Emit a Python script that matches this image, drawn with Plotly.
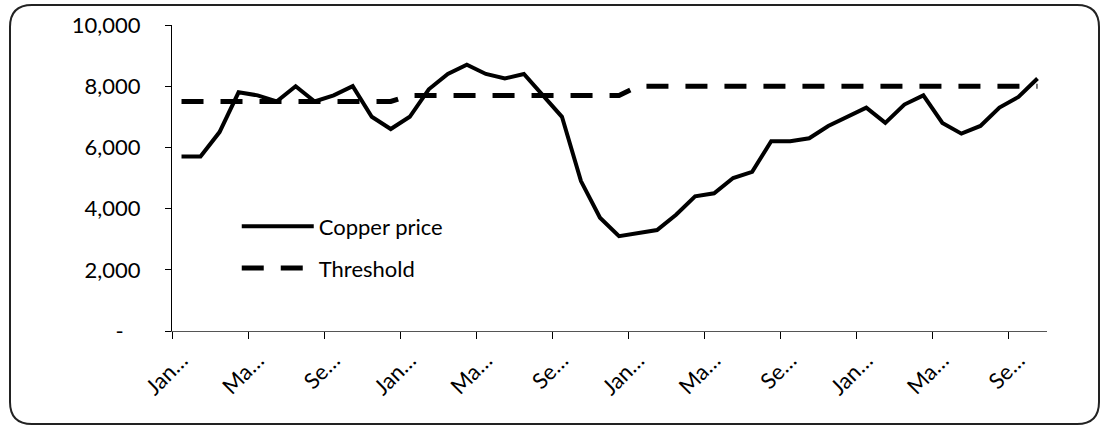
"""Copper price vs threshold line chart (Excel-style)."""

import plotly.graph_objects as go

# monthly observations, Jan 2007 .. Oct 2010
months = [
    "Jan-07", "Feb-07", "Mar-07", "Apr-07", "May-07", "Jun-07",
    "Jul-07", "Aug-07", "Sep-07", "Oct-07", "Nov-07", "Dec-07",
    "Jan-08", "Feb-08", "Mar-08", "Apr-08", "May-08", "Jun-08",
    "Jul-08", "Aug-08", "Sep-08", "Oct-08", "Nov-08", "Dec-08",
    "Jan-09", "Feb-09", "Mar-09", "Apr-09", "May-09", "Jun-09",
    "Jul-09", "Aug-09", "Sep-09", "Oct-09", "Nov-09", "Dec-09",
    "Jan-10", "Feb-10", "Mar-10", "Apr-10", "May-10", "Jun-10",
    "Jul-10", "Aug-10", "Sep-10", "Oct-10",
]

copper_price = [
    5700, 5700, 6500, 7800, 7700, 7500, 8000, 7500, 7700, 8000, 7000, 6600,
    7000, 7900, 8400, 8700, 8400, 8250, 8400, 7700, 7000, 4900, 3700, 3100,
    3200, 3300, 3800, 4400, 4500, 5000, 5200, 6200, 6200, 6300, 6700, 7000,
    7300, 6800, 7400, 7700, 6800, 6450, 6700, 7300, 7650, 8250,
]

threshold = [7500] * 12 + [7700] * 12 + [8000] * 22

y_ticks = [0, 2000, 4000, 6000, 8000, 10000]
y_tick_text = ["-\u00a0\u00a0\u00a0", "2,000", "4,000", "6,000", "8,000", "10,000"]

x_tick_text = ["Jan…", "Ma…", "Se…"] * 4

W, H = 1103, 428
M = dict(l=172, r=56, t=25, b=97)
FONT = "Lato, 'Open Sans', sans-serif"

x = list(range(len(months)))

fig = go.Figure()
fig.add_trace(go.Scatter(
    x=x, y=copper_price, mode="lines", name="Copper price",
    line=dict(color="black", width=4), legendgroup="a",
    customdata=months, hovertemplate="%{customdata}: %{y:,}<extra></extra>",
))
fig.add_trace(go.Scatter(
    x=x, y=threshold, mode="lines", name="Threshold",
    line=dict(color="black", width=5, dash="22px,17px"), legendgroup="b",
    customdata=months, hovertemplate="%{customdata}: %{y:,}<extra></extra>",
))

# rounded chart-area border, given in pixels and converted to paper units
pw, ph = W - M["l"] - M["r"], H - M["t"] - M["b"]


def px(v):
    return (v - M["l"]) / pw


def py(v):
    return (H - M["b"] - v) / ph


x0, x1, y0, y1, r = 10, 1099, 5, 424, 22
path = (
    f"M{px(x0 + r)},{py(y0)} L{px(x1 - r)},{py(y0)} "
    f"Q{px(x1)},{py(y0)} {px(x1)},{py(y0 + r)} "
    f"L{px(x1)},{py(y1 - r)} Q{px(x1)},{py(y1)} {px(x1 - r)},{py(y1)} "
    f"L{px(x0 + r)},{py(y1)} Q{px(x0)},{py(y1)} {px(x0)},{py(y1 - r)} "
    f"L{px(x0)},{py(y0 + r)} Q{px(x0)},{py(y0)} {px(x0 + r)},{py(y0)} Z"
)
fig.add_shape(type="path", path=path, xref="paper", yref="paper",
              line=dict(color="#222", width=2), layer="below")

fig.update_layout(
    width=W, height=H, margin=M,
    paper_bgcolor="white", plot_bgcolor="white",
    font=dict(family=FONT, size=22, color="black"),
    showlegend=True,
    legend=dict(
        x=0.074, y=0.41, xanchor="left", yanchor="top",
        bgcolor="rgba(0,0,0,0)", itemwidth=72, tracegroupgap=10,
        font=dict(size=22),
    ),
    xaxis=dict(
        range=[-0.5, len(months) - 0.5], showgrid=False, zeroline=False,
        showline=True, linecolor="#555", linewidth=1,
        tickmode="array", tickvals=x[::4], ticktext=x_tick_text,
        tickangle=-45, ticks="", ticklabelstandoff=7,
        minor=dict(tickmode="array", tickvals=[v - 0.5 for v in x[::4]],
                   ticks="outside", ticklen=7, tickcolor="black", tickwidth=1),
    ),
    yaxis=dict(
        range=[0, 10000], showgrid=False, zeroline=False,
        showline=True, linecolor="black", linewidth=1,
        tickmode="array", tickvals=y_ticks, ticktext=y_tick_text,
        ticks="outside", ticklen=6, tickcolor="black",
        ticklabelstandoff=20,
    ),
)

fig.write_html("out.html", config={"displayModeBar": False},
               post_script="document.body.style.margin='0';")
